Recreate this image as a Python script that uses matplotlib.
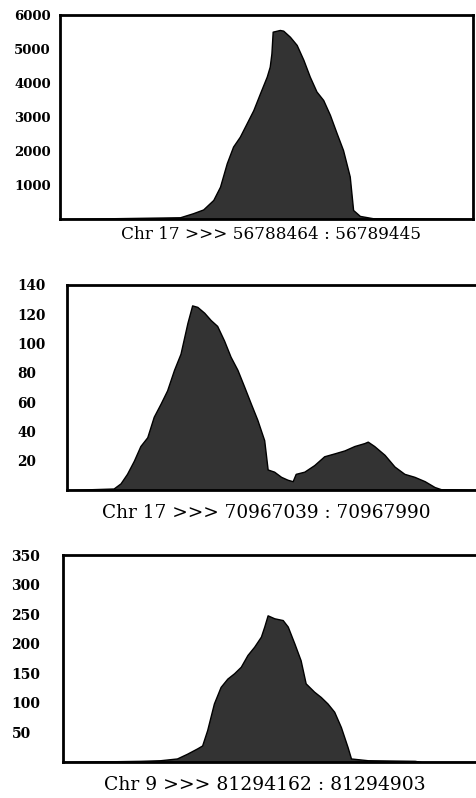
import numpy as np
import matplotlib
matplotlib.use("Agg")
import matplotlib.pyplot as plt

plt.rcParams['font.family'] = ['DejaVu Serif']

# panel 1: Chr 17 56788464-56789445
p1_start, p1_end = 56788464, 56789445
p1_offset = [0, 285, 316, 340, 364, 380, 396, 411, 427, 443, 459, 475, 491, 498, 502, 505,
             522, 530, 546, 562, 578, 593, 609, 625, 641, 657, 672, 688, 696, 712, 744, 981]
p1_depth = [0, 50, 170, 280, 560, 950, 1640, 2130, 2420, 2810, 3200, 3700, 4190, 4480, 4870, 5510,
            5560, 5540, 5360, 5120, 4680, 4190, 3750, 3500, 3060, 2520, 2030, 1250, 265, 90, 20, 0]
p1_ticks = [1000, 2000, 3000, 4000, 5000, 6000]

# panel 2: Chr 17 70967039-70967990
p2_start, p2_end = 70967039, 70967990
p2_offset = [0, 108, 124, 139, 155, 170, 186, 201, 217, 232, 248, 263, 279, 290, 302, 318,
             333, 348, 364, 379, 395, 410, 426, 441, 457, 465, 480, 496, 511, 523, 530, 550,
             573, 596, 620, 643, 666, 689, 697, 712, 736, 759, 782, 805, 829, 852, 867, 951]
p2_depth = [0, 1, 4.5, 11, 20, 30, 36, 50, 59, 68, 82, 93, 114, 126, 125, 121,
            116, 112, 102, 91, 82, 71, 59, 48, 34, 14, 12.5, 9, 7, 6, 11, 12.5,
            17, 23, 25, 27, 30, 32, 33, 30, 24, 16, 11, 9, 6, 2, 0.5, 0]
p2_ticks = [20, 40, 60, 80, 100, 120, 140]

# panel 3: Chr 9 81294162-81294903
p3_start, p3_end = 81294162, 81294903
p3_offset = [0, 139, 174, 204, 222, 240, 249, 258, 270, 282, 294, 306, 318, 330, 342, 354,
             360, 366, 378, 393, 402, 414, 425, 434, 449, 461, 473, 485, 497, 509, 515, 545,
             629, 641, 741]
p3_depth = [0, 2, 3, 6, 14, 23, 28, 54, 99, 127, 141, 150, 161, 181, 195, 212,
            229, 248, 243, 240, 229, 200, 172, 133, 119, 110, 99, 85, 59, 25, 6, 3,
            2, 0, 0]
p3_ticks = [50, 100, 150, 200, 250, 300, 350]

# (chrom, start, end, offsets, depth, ticks, ymax, rect, tick pad, tick size, label xy, label size)
panels = [
    ("17", p1_start, p1_end, p1_offset, p1_depth, p1_ticks, 6000,
     [0.126, 0.7256, 0.868, 0.2556], 33, 9.5, (0.511, -0.098), 12.2),
    ("17", p2_start, p2_end, p2_offset, p2_depth, p2_ticks, 140,
     [0.1408, 0.386, 0.862, 0.257], 36, 9.8, (0.485, -0.1366), 13.3),
    ("9", p3_start, p3_end, p3_offset, p3_depth, p3_ticks, 350,
     [0.132, 0.0451, 0.871, 0.2594], 37, 10, (0.488, -0.135), 13.5),
]

fig = plt.figure(figsize=(4.76, 7.98), dpi=100)

for chrom, start, end, offset, depth, ticks, ymax, rect, pad, tsize, lab, lsize in panels:
    ax = fig.add_axes(rect)
    x = start + np.array(offset)
    ax.fill_between(x, depth, color='#333333', edgecolor='black', linewidth=1.0)
    ax.set_xlim(start, end)
    ax.set_ylim(0, ymax)
    ax.set_xticks([])
    ax.set_yticks(ticks)
    ax.set_yticklabels([str(t) for t in ticks], fontweight='bold', fontsize=tsize)
    for t in ax.get_yticklabels():
        t.set_ha('left')
    ax.tick_params(axis='y', length=0, pad=pad)
    for s in ax.spines.values():
        s.set_linewidth(2)
        s.set_color('black')
    ax.set_xlabel(f"Chr {chrom} >>> {start} : {end}", fontsize=lsize, va='baseline')
    ax.xaxis.set_label_coords(*lab)

fig.savefig("out.png", dpi=100)
